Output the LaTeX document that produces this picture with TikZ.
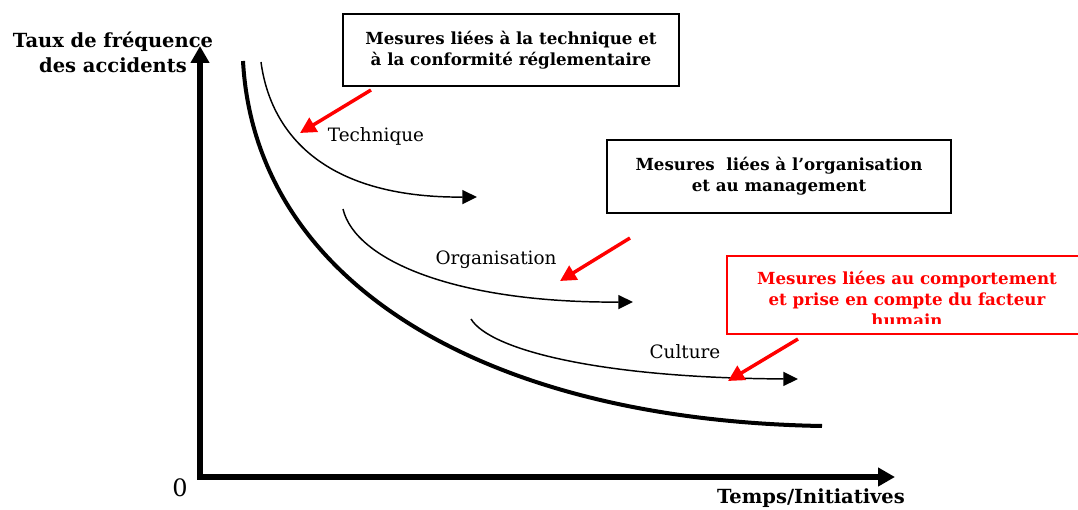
\documentclass[tikz,border=0pt]{standalone}
\usepackage{fontspec}
\setmainfont{DejaVu Serif}
\usetikzlibrary{arrows.meta}

\tikzset{every picture/.style={line width=0.75pt}}

\begin{document}
\begin{tikzpicture}[x=0.75pt,y=0.75pt,yscale=-1,xscale=1,
  axis/.style={line width=4.5pt, -{Triangle[length=12.75pt,width=13.5pt]}},
  trend/.style={line width=1.1pt, -{Triangle[length=11pt,width=10.5pt]}},
  pointer/.style={draw=red, line width=2.6pt, -{Triangle[length=12pt,width=12pt]}},
  mesure/.style={draw, line width=1.5pt, align=center, inner sep=0pt,
    font=\fontsize{12.5}{16}\selectfont\bfseries},
  axislabel/.style={inner sep=0pt, align=center, font=\fontsize{14.6}{18.75}\selectfont\bfseries},
  curvelabel/.style={inner sep=0pt, font=\fontsize{13.8}{15}\selectfont}]
\path[use as bounding box] (0,0) rectangle (1078,510);
\clip (0,0) rectangle (1078,510);

% Axes
\coordinate (origin) at (200,477);
\coordinate (ytop) at (200,46);
\coordinate (xend) at (895,477);
\draw[axis] ([yshift=-2.25pt]origin) -- (ytop);
\draw[axis] ([xshift=-2.25pt]origin) -- (xend);

% Text Node
\node[axislabel] (yname) at (113,52) {Taux de fréquence\\des accidents};
% Text Node
\node[axislabel] (xname) at (811,498) {Temps/Initiatives};
% Text Node
\node[inner sep=0pt, font=\fontsize{18}{18}\selectfont] (zero) at (180,488) {0};

% Main curve
\draw[line width=3pt] (243,61) .. controls (255,280) and (480,420) .. (822,426);

% Trend curves
\draw[trend] (261,62) .. controls (270,130) and (320,198) .. (477,197);
\draw[trend] (343,209) .. controls (355,260) and (455,303) .. (633,302);
\draw[trend] (471,319) .. controls (490,350) and (600,378) .. (798,379);

% Text Node
\node[curvelabel] (technique) at (376,136) {Technique};
% Text Node
\node[curvelabel] (organisation) at (496,260) {Organisation};
% Text Node
\node[curvelabel] (culture) at (685,352) {Culture};

% Boxes
\node[mesure, minimum width=252pt, minimum height=54pt] (mtech) at (511,50)
  {Mesures liées à la technique et\\à la conformité réglementaire};
\node[mesure, minimum width=258pt, minimum height=54.75pt] (morga) at (779,176.5)
  {Mesures\ \ liées à l’organisation\\et au management};
\node[mesure, draw=red, minimum width=270pt, minimum height=58.5pt] (mhum) at (907,295) {};
\begin{scope}
  \clip (727,258) rectangle (1087,323);
  \node[mesure, draw=none, text=red] (mhumtxt) at (907,299)
    {Mesures liées au comportement\\et prise en compte du facteur\\humain};
\end{scope}

% Red pointers
\coordinate (ptech) at (300,133);
\coordinate (porga) at (560,281);
\coordinate (phum) at (728,381);
\draw[pointer] (371,90) -- (ptech);
\draw[pointer] (630,238) -- (porga);
\draw[pointer] (798,339) -- (phum);

\end{tikzpicture}
\end{document}
